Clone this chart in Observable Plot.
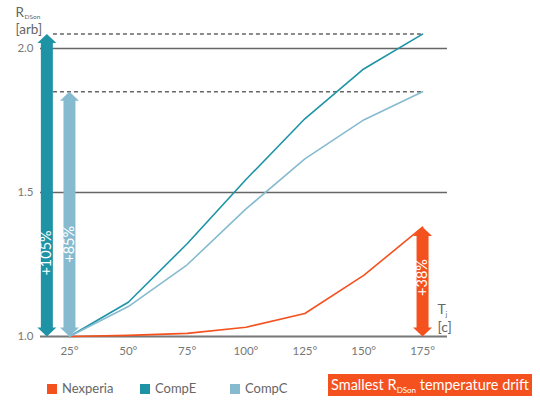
<!DOCTYPE html>
<html>
<head>
<meta charset="utf-8">
<script src="https://cdn.jsdelivr.net/npm/d3@7"></script>
<script src="https://cdn.jsdelivr.net/npm/@observablehq/plot@0.6"></script>
<style>
  body { margin: 0; background: #fff; font-family: Lato, "Open Sans", sans-serif; }
  #wrap { position: relative; width: 540px; height: 404px; }
  #legend { position: relative; width: 540px; height: 39px; }
  .sw { position: absolute; width: 10px; height: 10px; top: 19px; }
  .lt { position: absolute; top: 15px; font-size: 13px; color: #666; }
  #badge { position: absolute; left: 328px; top: 9px; width: 204px; height: 22px; background: #f4511e; color: #fff; font-size: 14.5px; line-height: 22px; text-align: center; white-space: nowrap; }
  #badge sub { font-size: 8px; vertical-align: -3px; }
</style>
</head>
<body>
<div id="wrap">
  <div id="chart"></div>
  <div id="legend"></div>
</div>
<script>
// --- data ---
const temps = [25, 50, 75, 100, 125, 150, 175];
const nexperia = [1.0, 1.004, 1.011, 1.032, 1.08, 1.212, 1.38];
const compE = [1.0, 1.119, 1.322, 1.545, 1.756, 1.929, 2.05];
const compC = [1.0, 1.104, 1.249, 1.443, 1.617, 1.752, 1.85];
const seriesNames = ["Nexperia", "CompE", "CompC"];
const seriesColors = ["#f4511e", "#1e93a6", "#86bbcf"];
const yTicks = [1.0, 1.5, 2.0];
const gridValues = [1.5, 2.0];
// drift arrows: x position (°C), label, label position
const arrowNames = ["CompE", "CompC", "Nexperia"];
const arrowX = [15.4, 25, 175];
const arrowLabels = ["+105%", "+85%", "+38%"];
const arrowLabelY = [1.29, 1.32, 1.205];

const seriesValues = {Nexperia: nexperia, CompE: compE, CompC: compC};
const color = Object.fromEntries(seriesNames.map((s, i) => [s, seriesColors[i]]));
const rows = seriesNames.flatMap(s => temps.map((t, i) => ({series: s, t, v: seriesValues[s][i]})));
const arrows = arrowNames.map((s, i) => ({
  series: s, x: arrowX[i], base: 1.0, top: seriesValues[s][seriesValues[s].length - 1],
  label: arrowLabels[i], ly: arrowLabelY[i]
}));
const dashed = arrows.filter(a => a.series !== "Nexperia");

const headUp = {draw(ctx) { ctx.moveTo(0, 0); ctx.lineTo(9.5, 9); ctx.lineTo(-9.5, 9); ctx.closePath(); }};
const headDown = {draw(ctx) { ctx.moveTo(0, 0); ctx.lineTo(9.5, -9); ctx.lineTo(-9.5, -9); ctx.closePath(); }};

const gray = "#666";
const chart = Plot.plot({
  width: 540,
  height: 365,
  marginLeft: 40,
  marginRight: 93,
  marginTop: 19.2,
  marginBottom: 29,
  style: {fontFamily: "Lato, 'Open Sans', sans-serif", color: gray, background: "#fff"},
  x: {domain: [12.7, 185.6], label: null},
  y: {domain: [1, 2.1], label: null},
  marks: [
    Plot.axisX({ticks: temps, tickFormat: d => d + "°", tickSize: 0, tickPadding: 10, fontSize: 11.5, fill: "#777", label: null}),
    Plot.axisY({ticks: yTicks, tickFormat: d3.format(".1f"), tickSize: 0, tickPadding: 7, fontSize: 11.5, fill: "#777", label: null}),
    Plot.ruleY(gridValues, {stroke: gray, strokeWidth: 1.5}),
    Plot.ruleY([1.0], {stroke: "#777", strokeWidth: 2}),
    Plot.ruleY(dashed, {y: "top", x1: 18.2, x2: 175, stroke: gray, strokeWidth: 1.5, strokeDasharray: "4,3"}),
    Plot.line(rows, {x: "t", y: "v", z: "series", stroke: d => color[d.series], strokeWidth: 1.6}),
    Plot.ruleX(arrows, {x: "x", y1: "top", y2: "base", stroke: d => color[d.series], strokeWidth: 12, insetTop: 8, insetBottom: 8}),
    Plot.dot(arrows, {x: "x", y: "top", r: 5, symbol: headUp, fill: d => color[d.series], stroke: "none"}),
    Plot.dot(arrows, {x: "x", y: "base", r: 5, symbol: headDown, fill: d => color[d.series], stroke: "none"}),
    Plot.text(arrows, {x: "x", y: "ly", text: "label", rotate: -90, fill: "#fff", fontSize: 14.5}),
    Plot.text(["R"], {frameAnchor: "top-left", dx: -25, dy: -3, textAnchor: "start", lineAnchor: "bottom", fontSize: 13.5, fill: gray}),
    Plot.text(["DSon"], {frameAnchor: "top-left", dx: -16, dy: -0.5, textAnchor: "start", lineAnchor: "bottom", fontSize: 6.5, fill: gray}),
    Plot.text(["[arb]"], {frameAnchor: "top-left", dx: -25, dy: 14, textAnchor: "start", lineAnchor: "bottom", fontSize: 13.5, fill: gray}),
    Plot.text(["T"], {frameAnchor: "bottom-right", dx: -10, dy: -23, textAnchor: "start", lineAnchor: "bottom", fontSize: 14, fill: gray}),
    Plot.text(["j"], {frameAnchor: "bottom-right", dx: -2, dy: -20, textAnchor: "start", lineAnchor: "bottom", fontSize: 7, fill: gray}),
    Plot.text(["[c]"], {frameAnchor: "bottom-right", dx: -10, dy: -5, textAnchor: "start", lineAnchor: "bottom", fontSize: 14, fill: gray})
  ]
});
document.getElementById("chart").appendChild(chart);

// legend below the chart
const legend = document.getElementById("legend");
const legendX = [47, 140, 230];
seriesNames.forEach((s, i) => {
  const sw = document.createElement("div");
  sw.className = "sw"; sw.style.left = legendX[i] + "px"; sw.style.background = color[s];
  const t = document.createElement("div");
  t.className = "lt"; t.style.left = (legendX[i] + 15) + "px"; t.textContent = s;
  legend.appendChild(sw); legend.appendChild(t);
});
const badge = document.createElement("div");
badge.id = "badge";
badge.innerHTML = "Smallest R<sub>DSon</sub> temperature drift";
legend.appendChild(badge);
</script>
</body>
</html>
